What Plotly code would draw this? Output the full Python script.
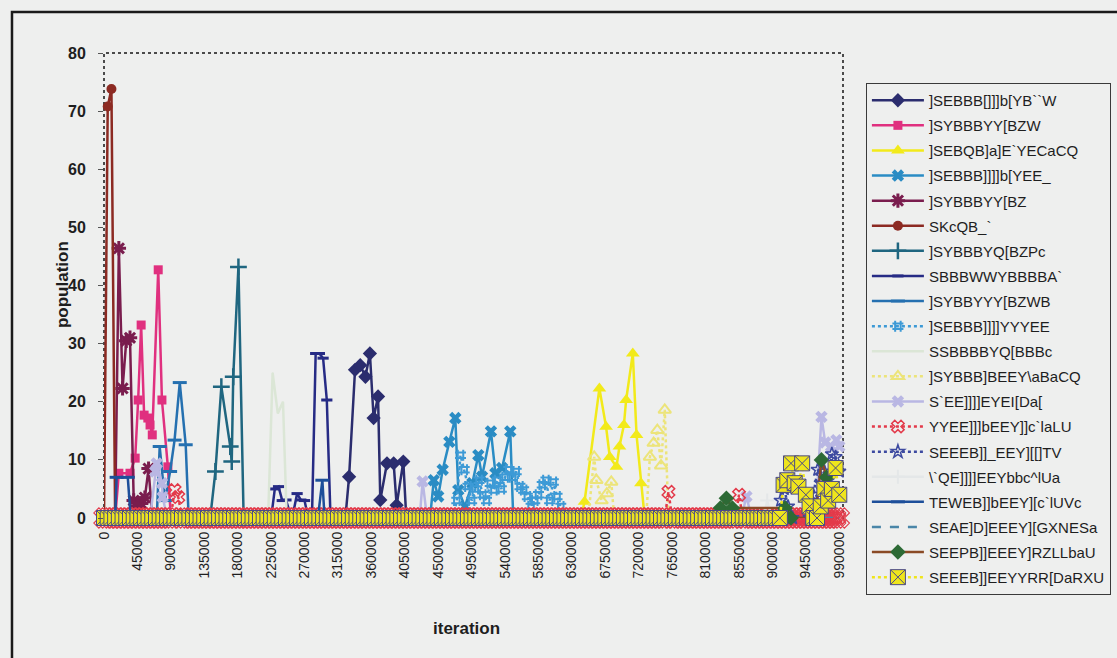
import plotly.graph_objects as go

# iteration grid used by the long-running series (one sample every 5000 iterations)
ITER = list(range(0, 995000, 5000))

NAMES = [
    "]SEBBB[]]]b[YB``W", "]SYBBBYY[BZW", "]SEBQB]a]E`YECaCQ", "]SEBBB]]]]b[YEE_",
    "]SYBBBYY[BZ", "SKcQB_`", "]SYBBBYQ[BZPc", "SBBBWWYBBBBA`", "]SYBBYYY[BZWB",
    "]SEBBB]]]]YYYEE", "SSBBBBYQ[BBBc", "]SYBBB]BEEY\\aBaCQ", "S`EE]]]]EYEI[Da[",
    "YYEE]]]bEEY]]c`laLU", "SEEEB]]_EEY][[]TV", "\\`QE]]]]EEYbbc^lUa",
    "TEWEB]]bEEY][c`lUVc", "SEAE]D]EEEY][GXNESa", "SEEPB]]EEEY]RZLLbaU",
    "SEEEB]]EEYYRR[DaRXU",
]

S1_X = [325000, 330000, 338000, 345000, 352000, 358000, 363000, 369000, 372000, 381000, 390000, 394000, 403000, 407000]
S1_Y = [0, 7.1, 25.5, 26.3, 24.3, 28.3, 17.2, 20.9, 3.1, 9.4, 9.4, 2.2, 9.7, 0]

S2_X = [15000, 20000, 35000, 42000, 46000, 50000, 54000, 59000, 62000, 65000, 73000, 78000, 86000, 90000]
S2_Y = [0, 7.7, 7.7, 10.3, 20.3, 33.2, 17.7, 17.2, 16, 14.3, 42.7, 20.3, 8.8, 0]

S3_X = [642000, 647000, 667000, 676000, 681000, 690000, 694000, 700000, 703000, 712000, 717000, 723000, 728000]
S3_Y = [0, 2.8, 22.3, 15.7, 10.5, 8.8, 12.3, 16, 20.3, 28.3, 14.3, 6, 0]

S4_X = [439000, 444000, 450000, 456000, 465000, 473000, 477000, 486000, 496000, 504000, 509000, 521000, 527000, 536000, 547000, 551000]
S4_Y = [0, 6.5, 3.7, 8.3, 13.1, 17.2, 4.8, 2, 6, 10.8, 7.1, 14.9, 7.7, 8.6, 14.9, 0]

S5_X = [15000, 20000, 25000, 30000, 35000, 40000, 45000, 50000, 55000, 60000, 65000]
S5_Y = [0, 46.4, 22.3, 30.5, 31, 3, 2, 2.5, 3.5, 8.5, 0]

S6_X = [0, 5000, 10000, 15000]
S6_Y = [0, 70.8, 73.8, 0]

S7_X = [143000, 150000, 158000, 170000, 172000, 174000, 181000, 188000]
S7_Y = [0, 8, 22.6, 12.3, 9.7, 24.3, 43.2, 0]

S8_X = [225000, 230000, 235000, 240000, 245000, 250000, 255000, 260000, 265000, 270000,
        275000, 280000, 285000, 290000, 295000, 300000, 305000]
S8_Y = [0, 5, 5.4, 3, 3.1, 1, 1, 4.2, 3.1, 3, 0, 0, 28.3, 28.3, 27.5, 20.3, 0]

S9_X = [71000, 75000, 82000, 89000, 95000, 102000, 110000, 114000]
S9_Y = [0, 12.3, 3, 8, 13.4, 23.3, 12.6, 0]

S10_X = list(range(470000, 625000, 5000))
S10_Y = [0, 3, 10.8, 8.3, 5.4, 3, 5, 6.5, 4, 3, 6, 4.8, 6.5, 5, 7, 8.3, 7, 8, 5.4, 4.8,
         3.7, 2, 3, 4, 5.7, 6.5, 3, 6.2, 3.7, 2, 0]

S11_X = [221000, 227000, 234000, 241000, 246000]
S11_Y = [0, 25, 18, 20, 0]

S12_X = [652000, 660000, 663000, 670000, 677000, 683000, 687000, None,
         730000, 735000, 740000, 745000, 750000, 755000, 760000]
S12_Y = [0, 10.5, 6.5, 3, 4.2, 6.2, 0, None,
         0, 10.5, 12.9, 15.1, 9, 18.6, 0]

S13_X = [62000, 69000, 71000, 78000, 79000, 85000, None,
         425000, 429000, 435000, None,
         858000, 865000, 872000, None,
         958000, 966000, 971000, 979000, 986000, 990000]
S13_Y = [0, 8, 9.4, 6, 3.6, 0, None,
         0, 6.3, 0, None,
         0, 3.7, 0, None,
         0, 17.4, 13, 12.3, 13.4, 12.3]

S14_Y = [0] * 19 + [4.8, 3.6] + [0] * 131 + [4.5] + [0] * 18 + [4.0] + [0] * 27

S15_X = [907000, 911000, 916000, 921000, 927000, 950000, 955000, 961000, 965000, 970000, 975000, 980000, 985000, 990000]
S15_Y = [0, 3, 5, 2, 0, 0, 4, 8.3, 6, 8, 6.5, 11, 10.5, 8]

S16_X = [888000, 893000, 899000]
S16_Y = [0, 3, 0]

S17_X = [15000, 17000, 32000, 36000, None, 288000, 294000, 297000]
S17_Y = [0, 7, 7, 0, None, 0, 6.5, 0]

S18_X = [0, 990000]
S18_Y = [0, 0]

S19_X = [826000, 830000, 838000, 846000, 917000, 925000, 958000, 966000, 973000, 981000, 987000]
S19_Y = [0, 1.7, 3.4, 1.7, 1.7, 0, 0, 10, 7, 4.8, 4.5]

S20_Y = [0] * 182 + [0, 5.7, 6.5, 9.4, 6, 5.4, 9.4, 4, 2, 0, 0, 2, 5, 3, 5, 8.6, 4]

X_TICKS = list(range(0, 995000, 45000))
Y_TICKS = [0, 10, 20, 30, 40, 50, 60, 70, 80]

BG = "#eeefee"
FONT = "Liberation Sans, Arial, sans-serif"
INK = "#1e1e1e"

# (x, y, line colour, dash, marker symbol, marker fill, marker line colour, marker size, marker line width)
STYLE = [
    (S1_X, S1_Y, "#2b2d6e", "solid", "diamond", "#2b2d6e", "#2b2d6e", 11, 0),
    (S2_X, S2_Y, "#e0307f", "solid", "square", "#e0307f", "#e0307f", 9, 0),
    (S3_X, S3_Y, "#f2ea1a", "solid", "triangle-up", "#f2ea1a", "#f2ea1a", 12, 0),
    (S4_X, S4_Y, "#2a8cc4", "solid", "x", "#2a8cc4", "#2a8cc4", 11, 0),
    (S5_X, S5_Y, "#7a1d4e", "solid", "asterisk", "#7a1d4e", "#7a1d4e", 12, 3),
    (S6_X, S6_Y, "#8c2a22", "solid", "circle", "#8c2a22", "#8c2a22", 10, 0),
    (S7_X, S7_Y, "#1f6680", "solid", "cross-thin", "#1f6680", "#1f6680", 12, 2.5),
    (S8_X, S8_Y, "#262b85", "solid", "line-ew", "#262b85", "#262b85", 8, 3),
    (S9_X, S9_Y, "#2570b0", "solid", "line-ew", "#2570b0", "#2570b0", 10, 3),
    (S10_X, S10_Y, "#3d9ad6", "dot", "hash", "#3d9ad6", "#3d9ad6", 11, 2),
    (S11_X, S11_Y, "#dbe6d6", "solid", "circle", "#dbe6d6", "#dbe6d6", 1, 0),
    (S12_X, S12_Y, "#ece47a", "dot", "triangle-up-open", "#ece47a", "#ece47a", 11, 2),
    (S13_X, S13_Y, "#b9b7e3", "solid", "x", "#b9b7e3", "#b9b7e3", 11, 0),
    (ITER, S14_Y, "#e33a4a", "dot", "x-open", "#e33a4a", "#e33a4a", 11, 1.5),
    (S15_X, S15_Y, "#3d4aa0", "dot", "star-open", "#3d4aa0", "#3d4aa0", 10, 1.5),
    (S16_X, S16_Y, "#e4e7e8", "solid", "cross-thin", "#e4e7e8", "#e4e7e8", 10, 2),
    (S17_X, S17_Y, "#1d4f9a", "solid", "line-ew", "#1d4f9a", "#1d4f9a", 10, 3),
    (S18_X, S18_Y, "#4a86a8", "dash", "circle", "#4a86a8", "#4a86a8", 1, 0),
    (S19_X, S19_Y, "#8a4a25", "solid", "diamond", "#2d6a35", "#2d6a35", 12, 0),
    (ITER, S20_Y, "#efe51c", "dot", "square-x", "#efe51c", "#4b4a86", 15, 1),
]

fig = go.Figure()
for idx, (name, (xs, ys, lc, dash, sym, mfill, mline, msize, mlw)) in enumerate(zip(NAMES, STYLE)):
    if idx == 13:
        # the red series' baseline markers are drawn larger so they peek round the yellow band
        zx = [x for x, y in zip(xs, ys) if y == 0]
        zy = [y for y in ys if y == 0]
        fig.add_trace(go.Scatter(
            x=zx, y=zy, mode="markers", showlegend=False, hoverinfo="skip",
            marker=dict(symbol="x-open", size=18, color=lc, line=dict(color=lc, width=1.1)),
            cliponaxis=False, legendgroup=name,
        ))
    fig.add_trace(go.Scatter(
        x=xs, y=ys, name=name, mode="lines+markers",
        line=dict(color=lc, width=2.5, dash=dash),
        marker=dict(symbol=sym, color=mfill, size=msize,
                    line=dict(color=mline, width=mlw)),
        connectgaps=False, legendgroup=name, cliponaxis=False,
    ))

fig.update_layout(
    width=1117, height=658,
    paper_bgcolor=BG, plot_bgcolor=BG,
    margin=dict(l=104, r=274, t=53, b=140, pad=0, autoexpand=False),
    font=dict(family=FONT, color=INK),
    showlegend=True,
    legend=dict(
        x=1.031, y=0.9355, xanchor="left", yanchor="top",
        bgcolor=BG, bordercolor="#3a3a3a", borderwidth=1,
        font=dict(family=FONT, size=15, color=INK),
        itemwidth=52, tracegroupgap=2.6, traceorder="grouped",
        maxheight=600,
    ),
    xaxis=dict(
        range=[0, 995000], tickmode="array", tickvals=X_TICKS,
        ticktext=[str(v) for v in X_TICKS], tickangle=-90,
        tickfont=dict(family=FONT, size=14, color=INK),
        showgrid=False, zeroline=False, showline=False, ticks="",
        ticklabelstandoff=10,
    ),
    yaxis=dict(
        range=[0, 80], tickmode="array", tickvals=Y_TICKS,
        ticktext=["<b>%d</b>" % v for v in Y_TICKS],
        tickfont=dict(family=FONT, size=16, color=INK),
        showgrid=False, zeroline=False, showline=False,
        ticks="outside", ticklen=5, tickcolor="#555", tickwidth=1,
        ticklabelstandoff=9,
    ),
    annotations=[
        dict(text="<b>population</b>", textangle=-90, xref="paper", yref="paper",
             x=-0.0568, y=0.501, xanchor="center", yanchor="middle", showarrow=False,
             font=dict(family=FONT, size=17, color=INK)),
        dict(text="<b>iteration</b>", xref="paper", yref="paper",
             x=0.491, y=-0.2366, xanchor="center", yanchor="middle", showarrow=False,
             font=dict(family=FONT, size=17, color=INK)),
    ],
    shapes=[
        # plot-area frame
        dict(type="rect", xref="paper", yref="paper", x0=0, x1=1, y0=0, y1=1,
             line=dict(color="#4a4a4a", width=2, dash="dot"), layer="below"),
        # outer chart frame
        dict(type="rect", xref="paper", yref="paper", x0=-0.1245, x1=1.39, y0=-0.36, y1=1.0882,
             line=dict(color="#1a1a1a", width=2.5), layer="below"),
    ],
)

fig.write_html("out.html")
